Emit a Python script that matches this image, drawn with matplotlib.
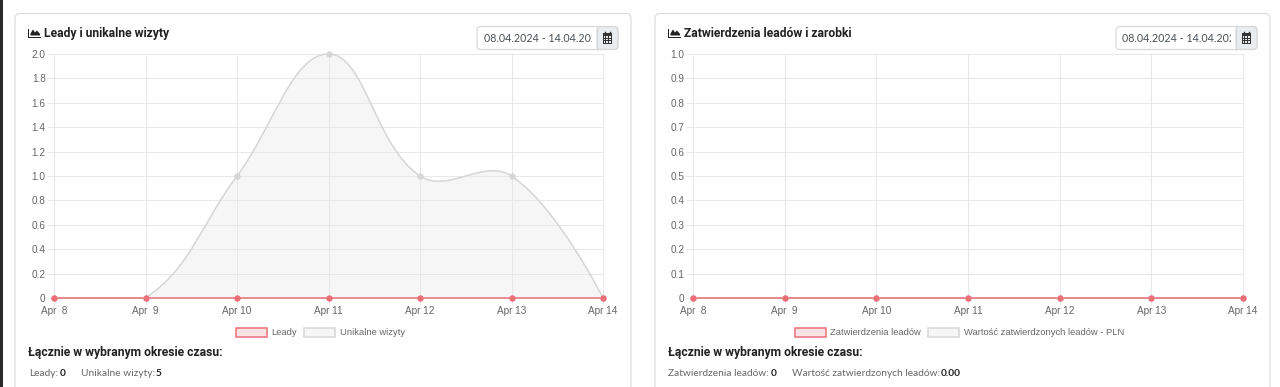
import matplotlib
matplotlib.use('Agg')
import matplotlib.pyplot as plt
from matplotlib.patches import FancyBboxPatch, Rectangle, PathPatch, Polygon
from matplotlib.path import Path
import numpy as np

# The data
days = ['Apr  8', 'Apr  9', 'Apr 10', 'Apr 11', 'Apr 12', 'Apr 13', 'Apr 14']
leady = [0, 0, 0, 0, 0, 0, 0]
wizyty = [0, 0, 1, 2, 1, 1, 0]
zatwierdzenia = [0, 0, 0, 0, 0, 0, 0]
wartosc = [0, 0, 0, 0, 0, 0, 0]
left_ticks = [0, 0.2, 0.4, 0.6, 0.8, 1.0, 1.2, 1.4, 1.6, 1.8, 2.0]
right_ticks = [0, 0.1, 0.2, 0.3, 0.4, 0.5, 0.6, 0.7, 0.8, 0.9, 1.0]

W, H = 1280, 387
red = '#ec6f78'
red_fill = '#fbe2e4'
grey = '#d6d6d6'
grey_fill = '#f6f6f6'
grid_col = '#e8e8e8'
txt = '#666666'
dark = '#222222'
head_font = 'Roboto'
body_font = 'Lato'
tick_font = 'Liberation Sans'

fig = plt.figure(figsize=(W / 100, H / 100), dpi=100, facecolor='white')

# page layer in pixel coordinates
bg = fig.add_axes([0, 0, 1, 1])
bg.set_xlim(0, W)
bg.set_ylim(H, 0)
bg.axis('off')
bg.add_patch(Rectangle((0, 0), 3, H, color='#2a2a2a', lw=0))


def spline_path(xs, ys, sx, sy, ymin, ymax, tension=0.4):
    # same bezier as chart.js, distances measured in pixels
    n = len(xs)
    cp = []
    for i in range(n):
        if i == 0 or i == n - 1:
            cp.append(((xs[i], ys[i]), (xs[i], ys[i])))
            continue
        d01 = np.hypot((xs[i] - xs[i - 1]) * sx, (ys[i] - ys[i - 1]) * sy)
        d12 = np.hypot((xs[i + 1] - xs[i]) * sx, (ys[i + 1] - ys[i]) * sy)
        fa = tension * d01 / (d01 + d12)
        fb = tension * d12 / (d01 + d12)
        dx = xs[i + 1] - xs[i - 1]
        dy = ys[i + 1] - ys[i - 1]
        before = (xs[i] - fa * dx, min(max(ys[i] - fa * dy, ymin), ymax))
        after = (xs[i] + fb * dx, min(max(ys[i] + fb * dy, ymin), ymax))
        cp.append((before, after))
    verts = [(xs[0], ys[0])]
    codes = [Path.MOVETO]
    for i in range(n - 1):
        verts += [cp[i][1], cp[i + 1][0], (xs[i + 1], ys[i + 1])]
        codes += [Path.CURVE4] * 3
    return verts, codes


def draw_chart(x0, x1, ticks, first, second):
    ax = fig.add_axes([x0 / W, 1 - 298 / H, (x1 - x0) / W, 244 / H])
    xs = list(range(len(days)))
    top = ticks[-1]
    ax.set_xlim(0, len(days) - 1)
    ax.set_ylim(0, top)
    sx = (x1 - x0) / (len(days) - 1)
    sy = 244 / top
    for name, vals, line, fill in [('b', second, grey, grey_fill), ('a', first, red, red_fill)]:
        verts, codes = spline_path(xs, vals, sx, sy, 0, top)
        if name == 'b':
            area = verts + [(xs[-1], 0), (xs[0], 0), (xs[0], 0)]
            area_codes = codes + [Path.LINETO, Path.LINETO, Path.CLOSEPOLY]
            ax.add_patch(PathPatch(Path(area, area_codes), facecolor=fill, edgecolor='none', zorder=1))
        ax.add_patch(PathPatch(Path(verts, codes), facecolor='none', edgecolor=line,
                               lw=1.1, zorder=3, clip_on=False))
        ax.plot(xs, vals, 'o', ms=4.6, color=line, mew=0, zorder=4, clip_on=False)
    ax.set_xticks(xs)
    ax.set_xticklabels(days)
    ax.set_yticks(ticks)
    ax.set_yticklabels(['0' if t == 0 else '%.1f' % t for t in ticks])
    ax.grid(color=grid_col, lw=0.7, zorder=2)
    ax.set_axisbelow(False)
    for s in ax.spines.values():
        s.set_color(grid_col)
        s.set_linewidth(0.7)
    ax.patch.set_alpha(0)
    ax.tick_params(axis='both', length=5, width=0.7, color=grid_col, labelcolor=txt,
                   labelsize=7.2, pad=1)
    for lab in ax.get_xticklabels() + ax.get_yticklabels():
        lab.set_family(tick_font)
    return ax


def area_icon(x, y):
    bg.add_patch(Polygon([(x, y - 9), (x + 1, y - 9), (x + 1, y - 1), (x + 13, y - 1),
                          (x + 13, y), (x, y)], closed=True, color=dark, lw=0))
    bg.add_patch(Polygon([(x + 2.5, y - 2), (x + 2.5, y - 4), (x + 5, y - 8), (x + 7, y - 5),
                          (x + 9, y - 7), (x + 12, y - 3.5), (x + 12, y - 2)],
                         closed=True, color=dark, lw=0))


def date_box(x0, x1):
    # input with the calendar button on its right side
    bg.add_patch(FancyBboxPatch((x0, 26.5), x1 - x0, 23, boxstyle='round,pad=0,rounding_size=4',
                                fc='white', ec='#d6d6d6', lw=0.8))
    btn = x1 - 21
    bg.add_patch(FancyBboxPatch((btn, 26.5), 21, 23, boxstyle='round,pad=0,rounding_size=4',
                                fc='#e9ecef', ec='#d6d6d6', lw=0.8))
    bg.add_patch(Rectangle((btn, 27), 5, 22, fc='#e9ecef', ec='none'))
    bg.plot([btn, btn], [26.5, 49.5], color='#d6d6d6', lw=0.8)
    t = bg.text(x0 + 6.5, 38.5, '08.04.2024 - 14.04.2024', family=body_font, fontsize=7.7, color='#495057',
                va='center', ha='left', clip_on=True)
    # the long date is cut off just before the button
    t.set_clip_path(Rectangle((x0 + 2, 27), btn - x0 - 7.5, 22, transform=bg.transData))
    # calendar glyph
    cx = btn + 5.5
    bg.add_patch(Rectangle((cx, 33), 9.5, 10.5, fc='#333333', ec='none'))
    bg.plot([cx + 2.5, cx + 2.5], [31.5, 34], color='#333333', lw=1)
    bg.plot([cx + 7, cx + 7], [31.5, 34], color='#333333', lw=1)
    for r in range(3):
        for c in range(3):
            bg.add_patch(Rectangle((cx + 1 + c * 2.7, 36.4 + r * 2.4), 1.9, 1.6, fc='#e9ecef', ec='none'))


def card(x0, x1, title, chart_x0, chart_x1, date_x0, date_x1, ticks, first, second,
         legend, summary):
    bg.add_patch(FancyBboxPatch((x0, 13.5), x1 - x0, H + 20, boxstyle='round,pad=0,rounding_size=5',
                                fc='white', ec='#d9d9d9', lw=0.8))
    tx = x0 + 13
    area_icon(tx, 37.5)
    bg.text(tx + 16, 33.5, title, family=head_font, fontweight='bold', fontsize=8.7, color=dark,
            va='center', ha='left')
    date_box(date_x0, date_x1)
    draw_chart(chart_x0, chart_x1, ticks, first, second)
    for bx, bw, lx, label, ec, fc in legend:
        bg.add_patch(Rectangle((bx, 327.5), bw, 9.5, fc=fc, ec=ec, lw=1.1))
        bg.text(lx, 332.5, label, family=tick_font, fontsize=6.75, color=txt, va='center', ha='left')
    bg.text(tx, 352.5, 'Łącznie w wybranym okresie czasu:', family=head_font, fontweight='bold',
            fontsize=8.7, color=dark, va='center', ha='left')
    for sx, stext, sweight, scol in summary:
        bg.text(sx, 373.5, stext, family=body_font, fontweight=sweight, fontsize=7.25, color=scol,
                va='center', ha='left')


card(15, 631, 'Leady i unikalne wizyty', 54, 603, 477, 618, left_ticks, leady, wizyty,
     [(236, 31, 271, 'Leady', red, red_fill),
      (304, 31, 340, 'Unikalne wizyty', grey, grey_fill)],
     [(29, 'Leady:', 'normal', txt), (60, '0', 'bold', dark),
      (81, 'Unikalne wizyty:', 'normal', txt), (156, '5', 'bold', dark)])

card(655, 1270, 'Zatwierdzenia leadów i zarobki', 693, 1243, 1116, 1257, right_ticks,
     zatwierdzenia, wartosc,
     [(795, 31, 830, 'Zatwierdzenia leadów', red, red_fill),
      (928, 31, 964, 'Wartość zatwierdzonych leadów - PLN', grey, grey_fill)],
     [(668, 'Zatwierdzenia leadów:', 'normal', txt), (771, '0', 'bold', dark),
      (792, 'Wartość zatwierdzonych leadów:', 'normal', txt), (941, '0.00', 'bold', dark)])

fig.savefig('out.png', dpi=100)
